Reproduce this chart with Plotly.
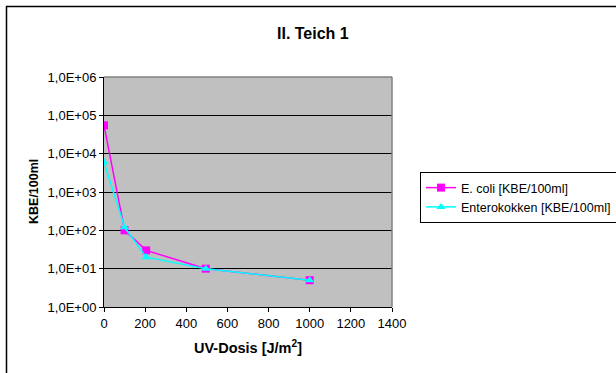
import plotly.graph_objects as go

# UV dose [J/m²] and measured counts [KBE/100ml]
uv_dose = [0, 100, 205, 495, 1000]
ecoli = [55000, 100, 30, 10, 5]
enterokokken = [6000, 120, 20, 10, 5]

y_tickvals = [1, 10, 100, 1000, 10000, 100000, 1000000]
y_ticktext = ["1,0E+00", "1,0E+01", "1,0E+02", "1,0E+03", "1,0E+04", "1,0E+05", "1,0E+06"]
x_tickvals = [0, 200, 400, 600, 800, 1000, 1200, 1400]

FONT = "Liberation Sans, Arial, sans-serif"

# plot-area pixel geometry
W, H = 616, 373
L, R, T, B = 104, 392, 77, 307
PW, PH = R - L, B - T


def px(x):
    return (x - L) / PW


def py(y):
    return (B - y) / PH


fig = go.Figure()
fig.add_trace(go.Scatter(
    x=uv_dose, y=ecoli, name="E. coli [KBE/100ml]", mode="lines+markers",
    line=dict(color="#FF00FF", width=1.5),
    marker=dict(symbol="square", size=8, color="#FF00FF"),
))
fig.add_trace(go.Scatter(
    x=uv_dose, y=enterokokken, name="Enterokokken [KBE/100ml]", mode="lines+markers",
    line=dict(color="#00FFFF", width=1.5),
    marker=dict(symbol="triangle-up", size=8, color="#00FFFF"),
))

fig.update_layout(
    width=W, height=H,
    margin=dict(l=L, r=W - R, t=T, b=H - B, autoexpand=False),
    paper_bgcolor="white", plot_bgcolor="#C0C0C0",
    font=dict(family=FONT, size=13, color="black"),
    showlegend=True,
    legend=dict(
        xref="container", yref="container",
        x=420 / W, y=1 - 172 / H, xanchor="left", yanchor="top",
        bgcolor="white", bordercolor="black", borderwidth=1,
        font=dict(family=FONT, size=12.5, color="black"),
        tracegroupgap=0, itemwidth=30,
    ),
    xaxis=dict(
        range=[0, 1400], tickvals=x_tickvals, showgrid=False, zeroline=False,
        showline=True, linecolor="black", linewidth=1, automargin=False,
        ticks="outside", ticklen=4, tickcolor="black",
        tickfont=dict(size=13), mirror=False,
    ),
    yaxis=dict(
        type="log", range=[0, 6], tickvals=y_tickvals, ticktext=y_ticktext,
        showgrid=True, gridcolor="black", gridwidth=1, zeroline=False,
        showline=True, linecolor="black", linewidth=1, automargin=False,
        ticks="outside", ticklen=4, tickcolor="black",
        tickfont=dict(size=13),
    ),
    shapes=[
        # outer chart frame
        dict(type="rect", xref="paper", yref="paper",
             x0=px(6.5), x1=px(W + 20), y0=py(6.5), y1=py(H + 20),
             line=dict(color="black", width=1.5), layer="above"),
        # plot-area frame on top and right
        dict(type="line", xref="paper", yref="paper",
             x0=0, x1=1, y0=1, y1=1, line=dict(color="#808080", width=1.5)),
        dict(type="line", xref="paper", yref="paper",
             x0=1, x1=1, y0=0, y1=1, line=dict(color="#808080", width=1.5)),
    ],
    annotations=[
        dict(text="<b>II. Teich 1</b>", xref="paper", yref="paper",
             x=px(313), y=py(34), xanchor="center", yanchor="middle",
             showarrow=False, font=dict(size=16, family=FONT)),
        dict(text="<b>UV-Dosis [J/m<sup>2</sup>]</b>", xref="paper", yref="paper",
             x=px(248), y=py(347), xanchor="center", yanchor="middle",
             showarrow=False, font=dict(size=14.5, family=FONT)),
        dict(text="<b>KBE/100ml</b>", xref="paper", yref="paper",
             x=px(34), y=py(192), xanchor="center", yanchor="middle",
             textangle=-90, showarrow=False, font=dict(size=12.5, family=FONT)),
    ],
)

fig.write_html("out.html")
